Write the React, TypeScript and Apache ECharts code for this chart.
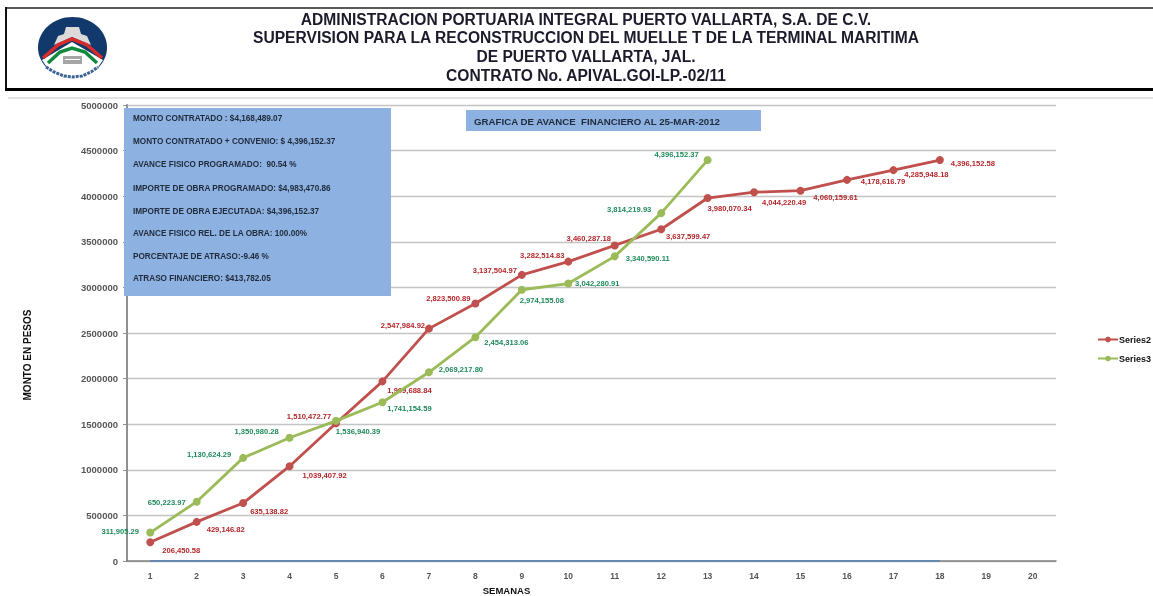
import React, { useEffect, useRef } from "react";
import * as echarts from "echarts";

const weeks = ["1","2","3","4","5","6","7","8","9","10","11","12","13","14","15","16","17","18","19","20"];
const series2Values = [206450.58,429146.82,635138.82,1039407.92,1510472.77,1969688.84,2547984.92,2823500.89,3137504.97,3282514.83,3460287.18,3637599.47,3980070.34,4044220.49,4060159.61,4178616.79,4285948.18,4396152.58];
const series3Values = [311905.29,650223.97,1130624.29,1350980.28,1536940.39,1741154.59,2069217.8,2454313.06,2974155.08,3042280.91,3340590.11,3814219.93,4396152.37];
const series1Values = [0,0,0,0,0,0,0,0,0,0,0,0,0,0,0,0,0,0];
const series2LabelOffsets = [[31,8],[29,8],[26,8],[35,9],[-27,-7],[27,9],[-26,-3],[-27,-5],[-27,-4],[-26,-6],[-26,-7],[27,7],[22,10],[30,10],[35,7],[36,2],[33,4],[33,3]];
const series3LabelOffsets = [[-30,-1],[-30,1],[-34,-3],[-33,-6],[22,11],[27,6],[32,-3],[31,5],[20,11],[29,0],[33,2],[-32,-4],[-31,-6]];
const headerLines = [
  "ADMINISTRACION PORTUARIA INTEGRAL PUERTO VALLARTA, S.A. DE C.V.",
  "SUPERVISION PARA LA RECONSTRUCCION DEL MUELLE T DE LA TERMINAL MARITIMA",
  "DE PUERTO VALLARTA, JAL.",
  "CONTRATO No. APIVAL.GOI-LP.-02/11",
];
const headerY = [19, 37, 56, 75];
const infoLines = [
  "MONTO CONTRATADO : $4,168,489.07",
  "MONTO CONTRATADO + CONVENIO: $ 4,396,152.37",
  "AVANCE FISICO PROGRAMADO:  90.54 %",
  "IMPORTE DE OBRA PROGRAMADO: $4,983,470.86",
  "IMPORTE DE OBRA EJECUTADA: $4,396,152.37",
  "AVANCE FISICO REL. DE LA OBRA: 100.00%",
  "PORCENTAJE DE ATRASO:-9.46 %",
  "ATRASO FINANCIERO: $413,782.05",
];
const infoY = [118, 141, 164, 188, 211, 233, 256, 278];
const boxTitle = "GRAFICA DE AVANCE  FINANCIERO AL 25-MAR-2012";

const FONT = '"Liberation Sans", Arial, sans-serif';
const RED = "#C0504D";
const GREEN = "#9BBB59";
const fmt = (v: number) => v.toLocaleString("en-US", { minimumFractionDigits: 2, maximumFractionDigits: 2 });

function points(values: number[], offsets: number[][], color: string) {
  return values.map((v, i) => ({
    value: v,
    label: {
      show: true,
      position: "inside",
      offset: offsets[i],
      formatter: fmt(v),
      color,
      fontSize: 7.6,
      fontWeight: "bold",
      fontFamily: FONT,
    },
  }));
}

export default function App() {
  const ref = useRef<HTMLDivElement>(null);
  useEffect(() => {
    document.body.style.margin = "0";
    const chart = echarts.init(ref.current!, null, { renderer: "svg" });
    const graphic: any[] = [
      { type: "line", z: 1, shape: { x1: 6, y1: 8, x2: 1153, y2: 8 }, style: { stroke: "#222", lineWidth: 1.5 } },
      { type: "line", z: 1, shape: { x1: 6, y1: 7, x2: 6, y2: 91 }, style: { stroke: "#111", lineWidth: 2 } },
      { type: "line", z: 1, shape: { x1: 5, y1: 89.5, x2: 1153, y2: 89.5 }, style: { stroke: "#000", lineWidth: 3 } },
      { type: "line", z: 1, shape: { x1: 8, y1: 98, x2: 1153, y2: 98 }, style: { stroke: "#d8d8d8", lineWidth: 1.5 } },
      // logo
      { type: "ellipse", z: 1, shape: { cx: 72.5, cy: 47.5, rx: 34.5, ry: 30.5 }, style: { fill: "#12396B" } },
      { type: "polygon", z: 1, shape: { points: [[42,60],[72,42],[103,60],[90,79],[55,79]] }, style: { fill: "#ffffff" } },
      { type: "polygon", z: 1, shape: { points: [[66,27],[79,27],[81,34],[87,36],[91,45],[72,37],[54,45],[58,36],[64,34]] }, style: { fill: "#DADADA" } },
      { type: "polyline", z: 1, shape: { points: [[43,58],[58,45],[72,39],[87,45],[102,58]] }, style: { stroke: "#D92B2B", lineWidth: 3.5, fill: "none" } },
      { type: "polyline", z: 1, shape: { points: [[48,63],[60,52],[72,48],[85,52],[97,63]] }, style: { stroke: "#128A3E", lineWidth: 3.5, fill: "none" } },
      { type: "rect", z: 1, shape: { x: 63, y: 56, width: 19, height: 8 }, style: { fill: "#a5a5a5" } },
      { type: "rect", z: 1, shape: { x: 65, y: 59, width: 15, height: 1 }, style: { fill: "#ffffff" } },
      { type: "polyline", z: 1, shape: { points: [[46,67],[54,72],[64,76],[72,77],[82,76],[91,72],[98,67]] }, style: { stroke: "#3A6395", lineWidth: 3, lineDash: [3, 1], fill: "none" } },
      // info boxes
      { type: "rect", z: 1, shape: { x: 124, y: 108, width: 267, height: 188 }, style: { fill: "#8DB1E0" } },
      { type: "rect", z: 1, shape: { x: 466, y: 110, width: 295, height: 21 }, style: { fill: "#8DB1E0" } },
      { type: "text", z: 1, x: 474, y: 121, style: { text: boxTitle, font: `bold 9.7px ${FONT}`, fill: "#1f2a3a", textAlign: "left", textVerticalAlign: "middle" } },
    ];
    infoLines.forEach((t, i) =>
      graphic.push({ type: "text", z: 1, x: 133, y: infoY[i], style: { text: t, font: `bold 8.2px ${FONT}`, fill: "#1f2a3a", textAlign: "left", textVerticalAlign: "middle" } })
    );
    headerLines.forEach((t, i) =>
      graphic.push({ type: "text", z: 1, x: 586, y: headerY[i], style: { text: t, font: `bold 15.6px ${FONT}`, fill: "#1b1b2b", textAlign: "center", textVerticalAlign: "middle" } })
    );
    chart.setOption({
      animation: false,
      backgroundColor: "#ffffff",
      grid: { left: 127, right: 97, top: 105, bottom: 35, outerBoundsMode: "none" },
      legend: {
        data: ["Series2", "Series3"],
        orient: "vertical",
        left: 1092,
        top: 330,
        itemWidth: 20,
        itemHeight: 7,
        itemGap: 10,
        textStyle: { fontSize: 9, fontWeight: "bold", fontFamily: FONT, color: "#111", padding: [0, 0, 0, -4] },
      },
      xAxis: {
        type: "category",
        data: weeks,
        boundaryGap: true,
        name: "SEMANAS",
        nameLocation: "middle",
        nameGap: 24,
        nameTextStyle: { fontSize: 9.5, fontWeight: "bold", fontFamily: FONT, color: "#111", padding: [0, 170, 0, 0] },
        axisLine: { onZero: false, lineStyle: { color: "#808080", width: 1.5 } },
        axisTick: { length: 4, lineStyle: { color: "#808080" } },
        axisLabel: { fontSize: 8.5, fontWeight: "bold", fontFamily: FONT, color: "#555", margin: 10 },
      },
      yAxis: {
        type: "value",
        min: 0,
        max: 5000000,
        interval: 500000,
        name: "MONTO EN PESOS",
        nameLocation: "middle",
        nameGap: 95,
        nameTextStyle: { fontSize: 10, fontWeight: "bold", fontFamily: FONT, color: "#111", padding: [0, 44, 0, 0] },
        axisLine: { show: true, lineStyle: { color: "#909090", width: 2 } },
        axisTick: { show: true, length: 4, lineStyle: { color: "#909090" } },
        axisLabel: { fontSize: 9.5, fontWeight: "bold", fontFamily: FONT, color: "#555", margin: 9, formatter: (v: number) => String(v) },
        splitLine: { lineStyle: { color: "#c4c4c4", width: 1.3 } },
      },
      series: [
        { name: "Series1", type: "line", z: 3, data: series1Values, showSymbol: false, lineStyle: { color: "#4F81BD", width: 1.5 }, itemStyle: { color: "#4F81BD" } },
        { name: "Series2", type: "line", z: 4, data: points(series2Values, series2LabelOffsets, "#B5262A"), symbol: "circle", symbolSize: 8, lineStyle: { color: RED, width: 2.8 }, itemStyle: { color: RED } },
        { name: "Series3", type: "line", z: 5, data: points(series3Values, series3LabelOffsets, "#1E8A5A"), symbol: "circle", symbolSize: 8, lineStyle: { color: GREEN, width: 2.8 }, itemStyle: { color: GREEN } },
      ],
      graphic,
    });
    return () => chart.dispose();
  }, []);
  return <div ref={ref} style={{ position: "fixed", left: 0, top: 0, width: 1153, height: 596, filter: "blur(0.45px)" }} />;
}
